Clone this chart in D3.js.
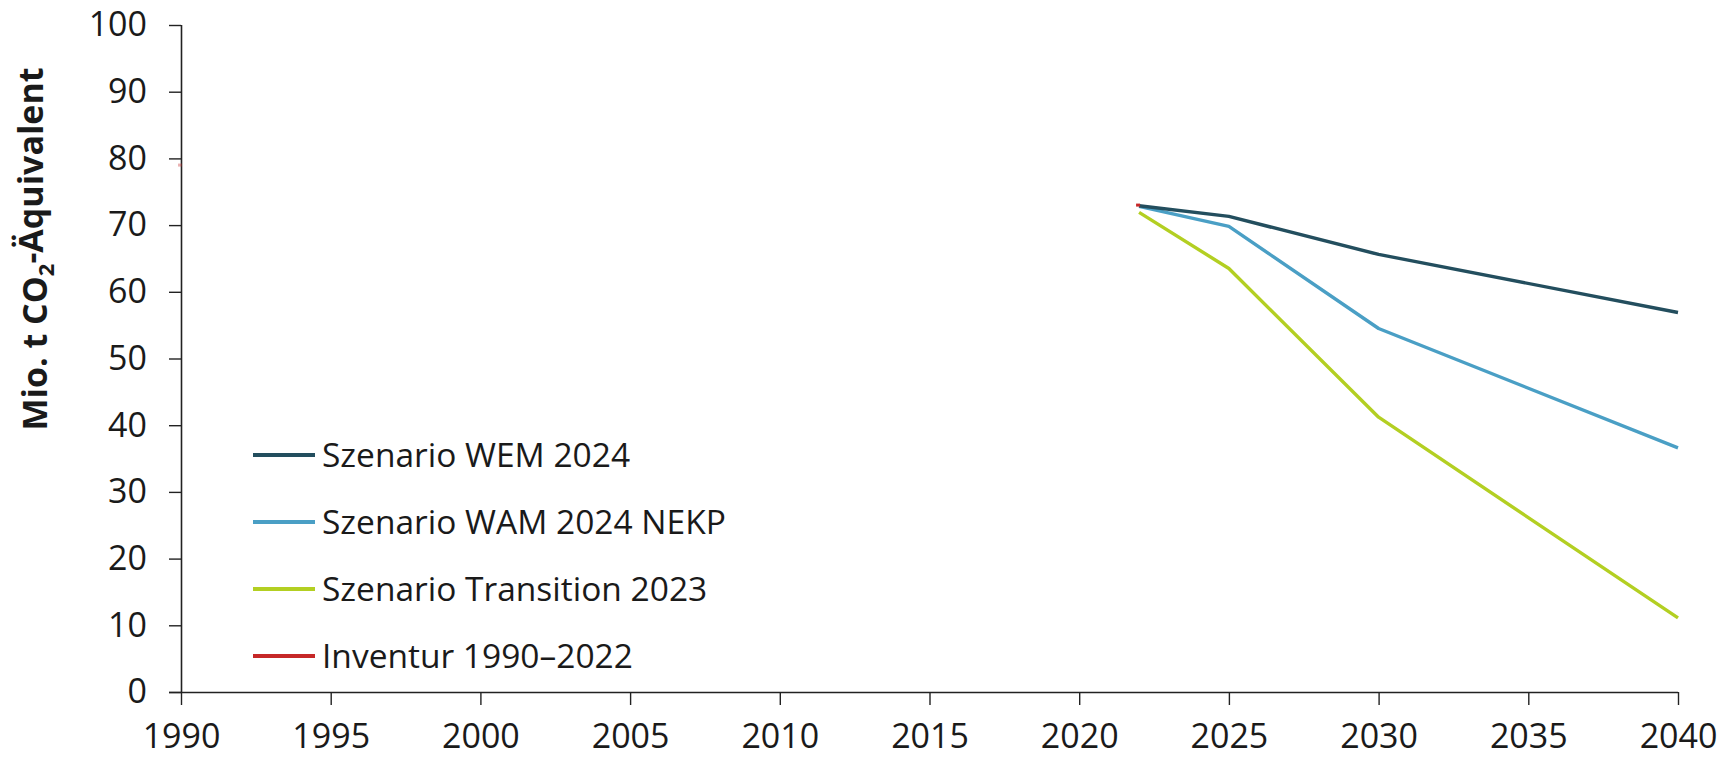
<!DOCTYPE html>
<html>
<head>
<meta charset="utf-8">
<script src="https://cdn.jsdelivr.net/npm/d3@7"></script>
<style>
  html, body { margin: 0; padding: 0; background: #fff; }
  svg { display: block; }
  text { font-family: "Open Sans", "Noto Sans", sans-serif; fill: #1a1a1a; }
</style>
</head>
<body>
<svg id="chart" width="1729" height="759"></svg>
<script>
// ---- data ----
const years = [2022, 2025, 2030, 2040];
const wem = [72.9, 71.3, 65.6, 56.9];
const wam = [72.8, 69.8, 54.5, 36.6];
const transition = [71.9, 63.5, 41.2, 11.1];
const inventurYears = [1990, 2022];
const inventur = [79.0, 73.0];
const xTicks = [1990, 1995, 2000, 2005, 2010, 2015, 2020, 2025, 2030, 2035, 2040];
const yTicks = [0, 10, 20, 30, 40, 50, 60, 70, 80, 90, 100];
const seriesNames = ["Szenario WEM 2024", "Szenario WAM 2024 NEKP", "Szenario Transition 2023", "Inventur 1990–2022"];
const seriesColors = ["#234e5e", "#4a9fc5", "#b3cf22", "#c62828"];

const svg = d3.select("#chart");
const mLeft = 181, mRight = 1678, mTop = 25, mBottom = 692;

const x = d3.scaleLinear().domain([1990, 2040]).range([mLeft, mRight]);
const y = d3.scaleLinear().domain([0, 100]).range([mBottom, mTop]);

// axes
const yAxis = svg.append("g")
  .attr("transform", `translate(${mLeft},0)`)
  .call(d3.axisLeft(y).tickValues(yTicks).tickSize(12).tickPadding(22).tickFormat(d3.format("d")));
const xAxis = svg.append("g")
  .attr("transform", `translate(0,${mBottom})`)
  .call(d3.axisBottom(x).tickValues(xTicks).tickSize(13).tickPadding(19).tickFormat(d3.format("d")));

[yAxis, xAxis].forEach(g => {
  g.select(".domain").attr("stroke", "#222").attr("stroke-width", 1.6);
  g.selectAll(".tick line").attr("stroke", "#222").attr("stroke-width", 1.4);
  g.selectAll(".tick text").style("font-size", "34px").style("font-family", "'Open Sans', sans-serif").attr("fill", "#1a1a1a");
});
xAxis.select(".domain").attr("d", `M${mLeft - 12},0.5H${mRight}`);
yAxis.select(".domain").attr("d", `M0.5,${mBottom}V${mTop}`);

// y-axis title
const title = svg.append("text")
  .attr("transform", `translate(47,249) rotate(-90)`)
  .attr("text-anchor", "middle")
  .style("font-size", "34px")
  .style("font-weight", "bold");
title.append("tspan").text("Mio. t CO");
title.append("tspan").attr("dy", "0.3em").style("font-size", "22px").text("2");
title.append("tspan").attr("dy", "-0.3em").text("-Äquivalent");

// lines
const line = d3.line().x(d => x(d[0])).y(d => y(d[1]));
const series = [wem, wam, transition];
[2, 1, 0].forEach(i => {
  const pts = years.map((yr, j) => [yr, series[i][j]]);
  svg.append("path")
    .attr("d", line(pts))
    .attr("fill", "none")
    .attr("stroke", seriesColors[i])
    .attr("stroke-width", 3.4)
    .attr("stroke-linejoin", "round");
});

// inventory (only tiny stubs visible)
inventurYears.forEach((yr, j) => {
  svg.append("line")
    .attr("x1", x(yr) - 3).attr("x2", x(yr) + 1)
    .attr("y1", y(inventur[j])).attr("y2", y(inventur[j]))
    .attr("stroke", seriesColors[3])
    .attr("stroke-width", 3)
    .attr("opacity", j === 0 ? 0.35 : 1);
});

// legend
const legY0 = 455, legStep = 67;
seriesNames.forEach((name, i) => {
  const gy = legY0 + i * legStep;
  svg.append("line")
    .attr("x1", 253).attr("x2", 315)
    .attr("y1", gy).attr("y2", gy)
    .attr("stroke", seriesColors[i])
    .attr("stroke-width", 4);
  svg.append("text")
    .attr("x", 322).attr("y", gy)
    .attr("dy", "0.36em")
    .style("font-size", "33.5px")
    .text(name);
});
</script>
</body>
</html>
